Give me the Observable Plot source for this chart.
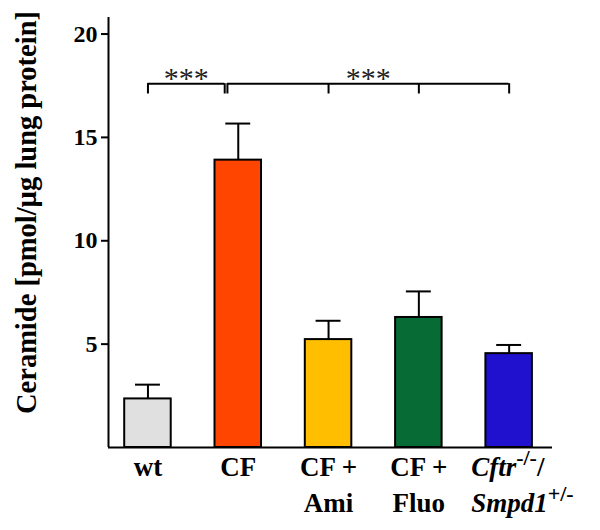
<!DOCTYPE html>
<html>
<head>
<meta charset="utf-8">
<script src="https://cdn.jsdelivr.net/npm/d3@7"></script>
<script src="https://cdn.jsdelivr.net/npm/@observablehq/plot@0.6"></script>
<style>
  html, body { margin: 0; padding: 0; background: #ffffff; }
  #chart svg { display: block; }
</style>
</head>
<body>
<div id="chart"></div>
<script>
// ---- data ----
const groups = ["wt", "CF", "CF + Ami", "CF + Fluo", "Cftr/Smpd1"];
const tickLabels = ["wt", "CF", "CF +\nAmi", "CF +\nFluo", "Cftr-/-/\nSmpd1+/-"];
const means = [2.35, 13.9, 5.22, 6.29, 4.54];
const sems = [0.69, 1.77, 0.91, 1.26, 0.42];
const colors = ["#e0e0e0", "#ff4500", "#ffbf00", "#066b34", "#2011cf"];
const yTicks = [5, 10, 15, 20];
const yTitle = "Ceramide [pmol/µg lung protein]";
const bracketGroupsA = ["wt", "CF"];
const bracketGroupsB = ["CF", "CF + Ami", "CF + Fluo", "Cftr/Smpd1"];
const sigLabels = ["***", "***"];

// ---- table built from the arrays ----
const table = groups.map((g, i) => ({group: g, idx: i, mean: means[i], sem: sems[i], color: colors[i]}));
const idx = g => groups.indexOf(g);

// style constants
const HALF_BAR = 0.2575;
const HALF_CAP = 0.138;
const BRACKET_Y = 17.6, BRACKET_DROP = 0.5;
const JOIN_A = -0.15, JOIN_B = -0.12; // where brackets meet near the CF bar
const xDomain = [-0.437, 4.48];

const brackets = [
  {pts: bracketGroupsA.map((g, k) => idx(g) + (k === bracketGroupsA.length - 1 ? JOIN_A : 0)), label: sigLabels[0]},
  {pts: bracketGroupsB.map((g, k) => idx(g) + (k === 0 ? JOIN_B : 0)), label: sigLabels[1]}
];
const dropPts = brackets.flatMap(b => b.pts);

const chart = Plot.plot({
  width: 600,
  height: 530,
  marginLeft: 108,
  marginRight: 48,
  marginTop: 17,
  marginBottom: 83,
  style: {fontFamily: "'Liberation Serif', 'Times New Roman', serif", background: "#ffffff", color: "#000"},
  x: {type: "linear", domain: xDomain},
  y: {domain: [0, 20.8]},
  color: {type: "identity"},
  marks: [
    // error bars (upper)
    Plot.ruleX(table, {x: "idx", y1: "mean", y2: d => d.mean + d.sem, stroke: "#000", strokeWidth: 2}),
    Plot.ruleY(table, {y: d => d.mean + d.sem, x1: d => d.idx - HALF_CAP, x2: d => d.idx + HALF_CAP, stroke: "#000", strokeWidth: 2}),
    // bars
    Plot.rect(table, {x1: d => d.idx - HALF_BAR, x2: d => d.idx + HALF_BAR, y1: () => 0, y2: "mean", fill: "color", stroke: "#000", strokeWidth: 2}),
    // axis lines
    Plot.ruleX([xDomain[0]], {stroke: "#000", strokeWidth: 2}),
    Plot.ruleY([0], {stroke: "#000", strokeWidth: 2}),
    // axes
    Plot.axisY({ticks: yTicks, tickSize: 7, tickPadding: 4, strokeWidth: 2, fontSize: 24, fontWeight: "bold", label: null}),
    Plot.axisX({ticks: [0, 1, 2, 3, 4], tickFormat: i => tickLabels[i], tickSize: 0, tickPadding: 4,
      fontSize: 27, fontWeight: "bold", lineHeight: 1.3, label: null}),
    // y title
    Plot.text([yTitle], {frameAnchor: "left", textAnchor: "middle", rotate: -90, dx: -82, dy: -20, fontSize: 28.5, fontWeight: "bold"}),
    // significance brackets
    Plot.ruleY(brackets, {y: () => BRACKET_Y, x1: d => d.pts[0], x2: d => d.pts[d.pts.length - 1], stroke: "#000", strokeWidth: 2}),
    Plot.ruleX(dropPts, {x: d => d, y1: () => BRACKET_Y - BRACKET_DROP, y2: () => BRACKET_Y, stroke: "#000", strokeWidth: 2}),
    Plot.text(brackets, {x: d => (d.pts[0] + d.pts[d.pts.length - 1]) / 2, y: () => BRACKET_Y, text: "label",
      lineAnchor: "bottom", dy: 4, fontSize: 30, fill: "#222"})
  ]
});

// rich formatting (italic gene names, superscripts) for the last tick label
const NS = "http://www.w3.org/2000/svg";
chart.querySelectorAll("text").forEach(t => {
  if (t.textContent.includes("Cftr")) {
    const fs = 27, lh = 1.3;
    while (t.firstChild) t.removeChild(t.firstChild);
    t.setAttribute("text-anchor", "start");
    const add = (txt, attrs) => {
      const s = document.createElementNS(NS, "tspan");
      for (const k in attrs) s.setAttribute(k, attrs[k]);
      s.textContent = txt;
      t.appendChild(s);
      return s;
    };
    const y1 = 0.71 * lh * fs, y2 = 1.71 * lh * fs;
    add("Cftr", {x: -38, y: y1, "font-style": "italic"});
    add("-/-", {dy: -11, "font-size": 22});
    add("/", {dy: 11});
    add("Smpd1", {x: -38, y: y2, "font-style": "italic"});
    add("+/-", {dy: -11, "font-size": 22});
  }
});

document.getElementById("chart").appendChild(chart);
</script>
</body>
</html>
